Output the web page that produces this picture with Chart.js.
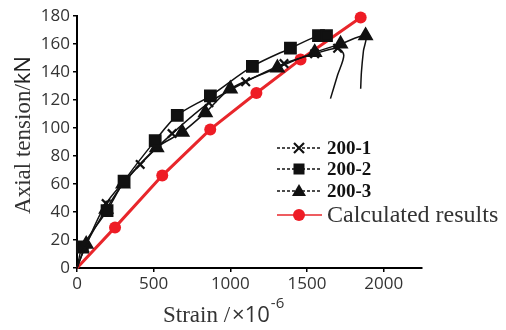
<!DOCTYPE html>
<html><head><meta charset="utf-8">
<script src="https://cdn.jsdelivr.net/npm/chart.js@4/dist/chart.umd.min.js"></script>
<style>html,body{margin:0;padding:0;background:#fff}#wrap{width:506px;height:330px}</style>
</head><body><div id="wrap"><canvas id="c" width="506" height="330"></canvas></div>
<script>
// ---- data ----
const seriesNames = ['200-1', '200-2', '200-3', 'Calculated results'];
const strain1 = [0, 50, 190, 412, 620, 860, 1100, 1350, 1550, 1700, 1740, 1700, 1653];
const load1   = [0, 14, 46, 74, 96, 118, 133, 146, 153, 157, 152, 138, 121];
const strain2 = [0, 35, 196, 307, 510, 654, 870, 1144, 1392, 1575, 1627];
const load2   = [0, 15, 41, 62, 91, 109, 123, 144, 157, 166, 166];
const strain3 = [0, 60, 190, 300, 520, 686, 837, 1000, 1307, 1550, 1719, 1882, 1868, 1855, 1850];
const load3   = [0, 17, 42, 60, 86, 97, 111, 128, 143, 154, 160, 166, 155, 140, 128];
const strainCalc = [0, 248, 556, 869, 1170, 1458, 1850];
const loadCalc   = [0, 29, 66, 99, 125, 149, 179];
const xTickValues = [0, 500, 1000, 1500, 2000];
const yTickValues = [0, 20, 40, 60, 80, 100, 120, 140, 160, 180];
const xTitle = 'Strain /';
const xTitleUnit = '×10';
const xTitleExp = '-6';
const yTitle = 'Axial tension/';
const yTitleUnit = 'kN';

function pts(xs, ys) { return xs.map((x, i) => ({ x: x, y: ys[i] })); }
function radii(n, first, last, r) { return Array.from({ length: n }, (_, i) => (i >= first && i <= last) ? r : 0); }

const SERIF = '"Liberation Serif", "Times New Roman", serif';
const SANS = '"Open Sans", "Noto Sans", sans-serif';

const legendPlugin = {
  id: 'customLegendTitles',
  afterDraw(chart) {
    const ctx = chart.ctx;
    ctx.save();
    // legend
    const rows = [148, 169, 191, 215];
    const x0 = 277, x1 = 322, xm = 299, tx = 327;
    chart.data.datasets.forEach((ds, i) => {
      const y = rows[i];
      ctx.save();
      ctx.strokeStyle = ds.borderColor;
      ctx.lineWidth = 1.5;
      ctx.setLineDash(i === 3 ? [] : [3, 2]);
      ctx.beginPath(); ctx.moveTo(x0, y); ctx.lineTo(x1, y); ctx.stroke();
      ctx.setLineDash([]);
      ctx.fillStyle = ds.backgroundColor;
      ctx.strokeStyle = ds.borderColor;
      if (ds.pointStyle === 'crossRot') {
        ctx.lineWidth = 2.2;
        ctx.beginPath();
        ctx.moveTo(xm - 5, y - 5); ctx.lineTo(xm + 5, y + 5);
        ctx.moveTo(xm + 5, y - 5); ctx.lineTo(xm - 5, y + 5);
        ctx.stroke();
      } else if (ds.pointStyle === 'rect') {
        ctx.fillRect(xm - 5.5, y - 5.5, 11, 11);
      } else if (ds.pointStyle === 'triangle') {
        ctx.beginPath(); ctx.moveTo(xm, y - 7); ctx.lineTo(xm + 7, y + 5); ctx.lineTo(xm - 7, y + 5); ctx.closePath(); ctx.fill();
      } else {
        ctx.beginPath(); ctx.arc(xm, y, 6, 0, Math.PI * 2); ctx.fill();
      }
      ctx.restore();
      ctx.textBaseline = 'middle';
      ctx.textAlign = 'left';
      if (i < 3) { ctx.font = 'bold 19px ' + SERIF; ctx.fillStyle = '#111'; }
      else { ctx.font = '24px ' + SERIF; ctx.fillStyle = '#333'; }
      ctx.fillText(ds.label, tx, y + 1);
    });
    // x title
    ctx.textBaseline = 'alphabetic';
    ctx.textAlign = 'left';
    ctx.fillStyle = '#333';
    let x = 163, yb = 322;
    ctx.font = '23px ' + SERIF; ctx.fillText(xTitle, x, yb); x += ctx.measureText(xTitle).width + 2;
    ctx.font = '22px ' + SANS; ctx.fillText(xTitleUnit, x, yb); x += ctx.measureText(xTitleUnit).width + 1;
    ctx.font = '15px ' + SANS; ctx.fillText(xTitleExp, x, yb - 14);
    // y title
    ctx.save();
    ctx.translate(30, 135);
    ctx.rotate(-Math.PI / 2);
    ctx.font = '23px ' + SERIF;
    const w1 = ctx.measureText(yTitle).width;
    ctx.font = '22px ' + SANS;
    const w2 = ctx.measureText(yTitleUnit).width;
    let sx = -(w1 + w2) / 2;
    ctx.font = '23px ' + SERIF; ctx.fillStyle = '#333'; ctx.fillText(yTitle, sx, 0);
    ctx.font = '22px ' + SANS; ctx.fillStyle = '#222'; ctx.fillText(yTitleUnit, sx + w1, 0);
    ctx.restore();
    ctx.restore();
  }
};

const blackLine = { borderColor: '#111', backgroundColor: '#111', borderWidth: 1.5, showLine: true, tension: 0.3, clip: false, pointBorderWidth: 2.2 };

new Chart(document.getElementById('c'), {
  type: 'scatter',
  data: {
    datasets: [
      Object.assign({}, blackLine, { label: seriesNames[0], data: pts(strain1, load1), pointStyle: 'crossRot', pointRadius: radii(strain1.length, 1, 9, 6) }),
      Object.assign({}, blackLine, { label: seriesNames[1], data: pts(strain2, load2), pointStyle: 'rect', pointRadius: radii(strain2.length, 1, 10, 7.5) }),
      Object.assign({}, blackLine, { label: seriesNames[2], data: pts(strain3, load3), pointStyle: 'triangle', pointRadius: radii(strain3.length, 1, 11, 7) }),
      { label: seriesNames[3], data: pts(strainCalc, loadCalc), borderColor: '#e8262b', backgroundColor: '#ee1c25', borderWidth: 3, showLine: true, tension: 0, clip: false, pointStyle: 'circle', pointRadius: radii(strainCalc.length, 1, 6, 6), pointBorderWidth: 0 }
    ]
  },
  options: {
    responsive: false,
    animation: false,
    layout: { padding: { left: 0, top: 16, right: 84, bottom: 0 } },
    plugins: { legend: { display: false }, tooltip: { enabled: false } },
    scales: {
      x: {
        type: 'linear', min: 0, max: 2250,
        afterBuildTicks: s => { s.ticks = xTickValues.map(v => ({ value: v })); },
        afterFit: s => { s.height = 62; },
        grid: { display: true, drawOnChartArea: false, drawTicks: true, tickLength: 4, color: '#000', lineWidth: 1.5 },
        border: { display: true, color: '#000', width: 2 },
        ticks: { color: '#333', font: { family: SANS, size: 17 }, padding: 2, maxRotation: 0, callback: v => String(v) }
      },
      y: {
        type: 'linear', min: 0, max: 180,
        afterBuildTicks: s => { s.ticks = yTickValues.map(v => ({ value: v })); },
        afterFit: s => { s.width = 77; },
        grid: { display: true, drawOnChartArea: false, drawTicks: true, tickLength: 4, color: '#000', lineWidth: 1.5 },
        border: { display: true, color: '#000', width: 2 },
        ticks: { color: '#333', font: { family: SANS, size: 17 }, padding: 3, callback: v => String(v) }
      }
    }
  },
  plugins: [legendPlugin]
});
</script>
</body></html>
